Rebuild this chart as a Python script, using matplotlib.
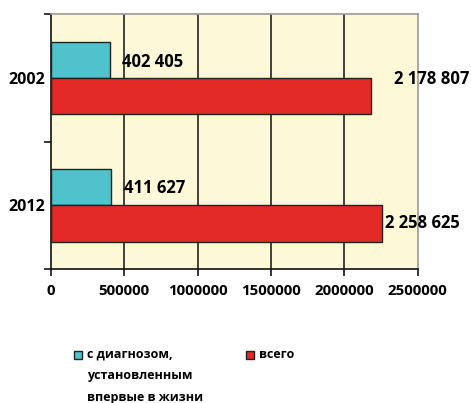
import matplotlib
matplotlib.use("Agg")
import matplotlib.pyplot as plt
import numpy as np
from matplotlib.patches import Rectangle
from matplotlib.ticker import FixedLocator, NullFormatter

plt.rcParams["font.family"] = ["Open Sans", "DejaVu Sans"]
plt.rcParams["font.weight"] = "bold"

# ── Data ──────────────────────────────────────────────────────────────────────
years       = ["2002", "2012"]
first_time  = [402405, 411627]      # с диагнозом, установленным впервые в жизни
total       = [2178807, 2258625]    # всего
x_ticks     = [0, 500000, 1000000, 1500000, 2000000, 2500000]
legend_labels = ["с диагнозом,\nустановленным\nвпервые в жизни", "всего"]

CYAN    = "#4EC3CB"
RED     = "#E32A26"
BG      = "#FCF8D8"
BAR_H   = 0.285


def fmt_space(v):
    return f"{v:,}".replace(",", " ")


fig = plt.figure(figsize=(4.71, 4.03), dpi=100)
ax = fig.add_axes([0.108, 0.3325, 0.779, 0.6325])
ax.set_facecolor(BG)

y = np.arange(len(years))
ax.barh(y - BAR_H / 2, first_time, height=BAR_H, color=CYAN,
        edgecolor="#222222", linewidth=1.0, zorder=3)
ax.barh(y + BAR_H / 2, total, height=BAR_H, color=RED,
        edgecolor="#222222", linewidth=1.0, zorder=3)

ax.set_xlim(0, 2500000)
ax.set_ylim(1.5, -0.5)

# vertical gridlines
for xv in x_ticks[1:-1]:
    ax.axvline(xv, color="#111111", linewidth=1.1, zorder=1)

ax.set_xticks(x_ticks)
ax.set_xticklabels([str(v) for v in x_ticks], fontsize=10.8, fontweight="bold")
ax.tick_params(axis="x", length=5, width=1.1, direction="out", pad=6)

# category boundaries as ticks, names at the centres
ax.yaxis.set_major_locator(FixedLocator([-0.5, 0.5, 1.5]))
ax.yaxis.set_major_formatter(NullFormatter())
ax.set_yticks(y, minor=True)
ax.set_yticklabels(years, minor=True, fontsize=11.5, fontweight="bold")
ax.tick_params(axis="y", which="major", length=5, width=1.1)
ax.tick_params(axis="y", which="minor", length=0, pad=4)

for side in ("left", "bottom"):
    ax.spines[side].set_color("#111111")
    ax.spines[side].set_linewidth(1.2)
for side in ("top", "right"):
    ax.spines[side].set_color("#9A9A9A")
    ax.spines[side].set_linewidth(1.2)

# value labels (offsets in points from the bar end)
label_offsets = {
    ("c", 0): (9, -2), ("r", 0): (17, 12),
    ("c", 1): (9, -0.5), ("r", 1): (2, 0),
}
for i in range(len(years)):
    for key, vals, dy in (("c", first_time, -BAR_H / 2), ("r", total, BAR_H / 2)):
        dx, oy = label_offsets[(key, i)]
        ax.annotate(fmt_space(vals[i]), xy=(vals[i], y[i] + dy),
                    xytext=(dx, oy), textcoords="offset points",
                    ha="left", va="center", fontsize=12, fontweight="bold",
                    annotation_clip=False, zorder=5)

# legend: swatch next to the first line of each entry
W, H = 471.0, 403.0
for (sx, sy), color, text in zip([(74, 350), (246, 350)], [CYAN, RED], legend_labels):
    fig.patches.append(Rectangle((sx / W, 1 - (sy + 9) / H), 8 / W, 8 / H,
                                 transform=fig.transFigure, facecolor=color,
                                 edgecolor="#222222", linewidth=1.0))
    fig.text((sx + 13) / W, 1 - (sy - 2) / H, text, ha="left", va="top",
             fontsize=9, fontweight="bold", linespacing=1.85)

fig.savefig("out.png", dpi=100, facecolor="white")
